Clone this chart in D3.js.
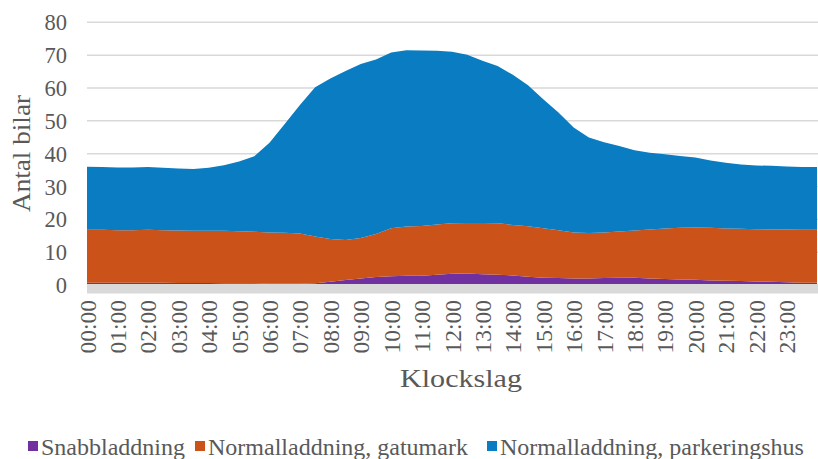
<!DOCTYPE html>
<html><head><meta charset="utf-8">
<script src="https://cdn.jsdelivr.net/npm/d3@7"></script>
<style>body{margin:0;background:#fff}svg{display:block}text{font-family:"Liberation Serif","Times New Roman",serif;fill:#595959}</style>
</head><body><svg id="c" width="818" height="459"></svg>
<script>
const times = ["00:00","00:30","01:00","01:30","02:00","02:30","03:00","03:30","04:00","04:30","05:00","05:30","06:00","06:30","07:00","07:30","08:00","08:30","09:00","09:30","10:00","10:30","11:00","11:30","12:00","12:30","13:00","13:30","14:00","14:30","15:00","15:30","16:00","16:30","17:00","17:30","18:00","18:30","19:00","19:30","20:00","20:30","21:00","21:30","22:00","22:30","23:00","23:30","24:00"];
const snabbladdning = [0.7,0.7,0.7,0.7,0.7,0.7,0.6,0.6,0.6,0.5,0.5,0.5,0.4,0.4,0.4,0.5,1.0,1.5,2.0,2.4,2.7,2.8,2.8,3.1,3.4,3.5,3.3,3.1,2.9,2.5,2.2,2.1,2.0,2.0,2.1,2.2,2.2,2.0,1.8,1.7,1.6,1.4,1.3,1.2,1.1,1.0,0.8,0.7,0.7];
const gatumark = [16.1,16.1,16.0,16.0,16.1,16.0,16.0,15.9,15.9,16.0,15.9,15.7,15.6,15.5,15.3,14.3,13.0,12.2,12.3,13.1,14.6,15.0,15.2,15.3,15.4,15.4,15.6,15.7,15.4,15.4,15.1,14.6,14.0,13.8,13.9,14.1,14.4,14.9,15.4,15.7,15.9,16.0,15.9,15.9,15.9,15.9,16.1,16.1,16.1];
const parkeringshus = [19.2,19.1,19.1,19.1,19.1,19.0,18.9,18.8,19.2,20.0,21.2,23.0,27.3,33.1,39.1,45.4,48.9,51.5,53.0,53.2,53.5,53.7,53.4,52.9,52.2,51.2,49.4,47.9,45.7,42.9,39.3,35.8,32.0,29.1,27.5,26.0,24.4,23.4,22.6,21.9,21.3,20.5,20.0,19.6,19.4,19.4,19.2,19.1,19.1];
const seriesNames = ["Snabbladdning","Normalladdning, gatumark","Normalladdning, parkeringshus"];
const colors = ["#7030A0","#CB5219","#0A7CC1"];
const yTicks = [0,10,20,30,40,50,60,70,80];
const hourLabels = ["00:00","01:00","02:00","03:00","04:00","05:00","06:00","07:00","08:00","09:00","10:00","11:00","12:00","13:00","14:00","15:00","16:00","17:00","18:00","19:00","20:00","21:00","22:00","23:00"];

const svg = d3.select("#c");
const x = d3.scalePoint().domain(times).range([87, 817]);
const y = d3.scaleLinear().domain([0, 80]).range([285, 22.3]);

const rows = times.map((t,i)=>({t, s0: snabbladdning[i], s1: gatumark[i], s2: parkeringshus[i]}));
const stacked = d3.stack().keys(["s0","s1","s2"])(rows);

svg.append("g").selectAll("line").data(yTicks.filter(d=>d>0)).join("line")
  .attr("x1", 87).attr("x2", 818).attr("y1", d=>y(d)).attr("y2", d=>y(d))
  .attr("stroke", "#d9d9d9").attr("stroke-width", 1.5);

const area = d3.area().x(d=>x(d.data.t)).y0(d=>y(d[0])).y1(d=>y(d[1]));
svg.append("g").selectAll("path").data(stacked).join("path")
  .attr("d", area).attr("fill", (d,i)=>colors[i]);

svg.append("rect").attr("x", 87).attr("y", y(0)-1).attr("width", 731).attr("height", 9.5).attr("fill", "#d9d9d9");

const ya = d3.axisLeft(y).tickValues(yTicks).tickSize(0).tickPadding(0);
const yg = svg.append("g").attr("transform", "translate(67,0)").call(ya);
yg.select(".domain").remove();
yg.attr("font-family", null);
yg.selectAll("text").attr("font-size", 22.5).style("fill", "#595959").attr("dy", "0.34em");

const xa = d3.axisBottom(x).tickValues(hourLabels).tickSize(0).tickPadding(0);
const xg = svg.append("g").attr("transform", "translate(0,300)").call(xa);
xg.select(".domain").remove();
xg.attr("font-family", null);
xg.selectAll("text").attr("font-size", 23.5).style("fill", "#595959")
  .attr("transform", "rotate(-90)").attr("text-anchor", "end").attr("x", 0).attr("y", 0).attr("dy", "0.34em").attr("dx", 0);

svg.append("text").attr("transform", "translate(30,153.5) rotate(-90)").attr("text-anchor", "middle")
  .attr("font-size", 26).attr("textLength", 117).attr("lengthAdjust", "spacingAndGlyphs").text("Antal bilar");
svg.append("text").attr("x", 461).attr("y", 387).attr("text-anchor", "middle").attr("font-size", 26)
  .attr("textLength", 122).attr("lengthAdjust", "spacingAndGlyphs").text("Klockslag");

const legX = [28, 195, 487];
const lg = svg.append("g").selectAll("g").data(seriesNames).join("g")
  .attr("transform", (d,i)=>`translate(${legX[i]},0)`);
lg.append("rect").attr("x", 0).attr("y", 441).attr("width", 10).attr("height", 10).attr("fill", (d,i)=>colors[i]);
lg.append("text").attr("x", 13).attr("y", 455).attr("font-size", 24).text(d=>d);
</script></body></html>
